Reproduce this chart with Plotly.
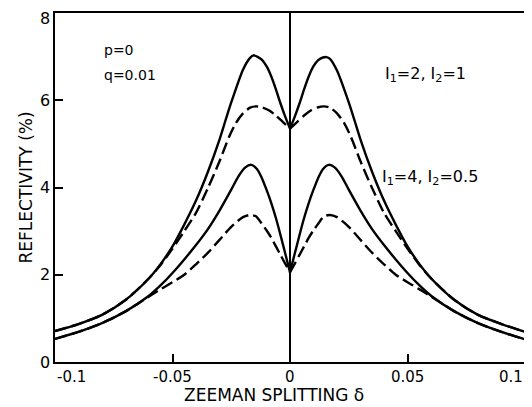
import plotly.graph_objects as go

# ---- data ----
# upper pair (I1=2, I2=1)
xa = [-0.1, -0.09, -0.08, -0.07, -0.06, -0.055, -0.05, -0.045, -0.04, -0.035, -0.03, -0.0275, -0.025, -0.02, -0.017, -0.0155, -0.014, -0.012, -0.01, -0.008, -0.006, -0.004, -0.002, 0.0,
      0.002, 0.004, 0.006, 0.008, 0.01, 0.012, 0.014, 0.0155, 0.017, 0.02, 0.025, 0.0275, 0.03, 0.035, 0.04, 0.045, 0.05, 0.055, 0.06, 0.07, 0.08, 0.09, 0.1]
ya = [0.71, 0.87, 1.08, 1.42, 1.92, 2.25, 2.65, 3.15, 3.7, 4.35, 5.1, 5.53, 5.95, 6.7, 6.97, 7.03, 7.0, 6.93, 6.78, 6.55, 6.25, 5.92, 5.62, 5.35,
      5.62, 5.92, 6.25, 6.55, 6.78, 6.92, 6.98, 6.99, 6.95, 6.68, 5.95, 5.53, 5.1, 4.35, 3.7, 3.15, 2.65, 2.25, 1.92, 1.42, 1.08, 0.87, 0.69]

xb = [-0.1, -0.09, -0.08, -0.07, -0.06, -0.055, -0.05, -0.045, -0.04, -0.035, -0.03, -0.026, -0.023, -0.02, -0.017, -0.0145, -0.012, -0.009, -0.006, -0.003, 0.0,
      0.003, 0.006, 0.009, 0.012, 0.0145, 0.017, 0.02, 0.023, 0.026, 0.03, 0.035, 0.04, 0.045, 0.05, 0.055, 0.06, 0.07, 0.08, 0.09, 0.1]
yb = [0.71, 0.87, 1.08, 1.42, 1.92, 2.23, 2.6, 3.0, 3.42, 3.98, 4.6, 5.15, 5.48, 5.7, 5.83, 5.86, 5.84, 5.77, 5.65, 5.5, 5.35,
      5.5, 5.65, 5.77, 5.84, 5.86, 5.83, 5.7, 5.48, 5.15, 4.6, 3.98, 3.42, 3.0, 2.6, 2.23, 1.92, 1.42, 1.08, 0.87, 0.69]

# lower pair (I1=4, I2=0.5)
xc = [-0.1, -0.09, -0.08, -0.07, -0.06, -0.055, -0.05, -0.045, -0.04, -0.035, -0.03, -0.025, -0.022, -0.019, -0.0165, -0.014, -0.012, -0.01, -0.008, -0.006, -0.004, -0.002, 0.0,
      0.002, 0.004, 0.006, 0.008, 0.01, 0.012, 0.014, 0.0165, 0.019, 0.022, 0.025, 0.03, 0.035, 0.04, 0.045, 0.05, 0.055, 0.06, 0.07, 0.08, 0.09, 0.1]
yc = [0.53, 0.69, 0.89, 1.16, 1.52, 1.76, 2.04, 2.35, 2.68, 3.04, 3.47, 3.95, 4.25, 4.46, 4.52, 4.42, 4.22, 3.95, 3.65, 3.3, 2.9, 2.48, 2.06,
      2.48, 2.9, 3.3, 3.65, 3.95, 4.22, 4.42, 4.52, 4.46, 4.25, 3.95, 3.47, 3.04, 2.68, 2.35, 2.04, 1.76, 1.52, 1.16, 0.89, 0.69, 0.52]

xd = [-0.1, -0.09, -0.08, -0.07, -0.065, -0.06, -0.055, -0.05, -0.045, -0.04, -0.035, -0.03, -0.025, -0.02, -0.017, -0.0145, -0.012, -0.01, -0.008, -0.006, -0.004, -0.002, 0.0,
      0.002, 0.004, 0.006, 0.008, 0.01, 0.012, 0.0145, 0.017, 0.02, 0.025, 0.03, 0.035, 0.04, 0.045, 0.05, 0.055, 0.06, 0.065, 0.07, 0.08, 0.09, 0.1]
yd = [0.53, 0.69, 0.89, 1.16, 1.33, 1.5, 1.67, 1.83, 2.0, 2.24, 2.5, 2.8, 3.1, 3.32, 3.37, 3.34, 3.17, 3.02, 2.85, 2.65, 2.45, 2.25, 2.06,
      2.25, 2.45, 2.65, 2.85, 3.02, 3.17, 3.34, 3.37, 3.32, 3.1, 2.8, 2.5, 2.24, 2.0, 1.83, 1.67, 1.5, 1.33, 1.16, 0.89, 0.69, 0.52]

y_ticks = [0, 2, 4, 6, 8]
y_labels = ["0", "2", "4", "6", "8"]
x_tick_marks = [-0.05, 0.05]
x_labels = [(-0.1, "-0.1", "left"), (-0.05, "-0.05", "center"), (0.0, "0", "center"),
            (0.05, "0.05", "center"), (0.1, "0.1", "right")]

FONT = "DejaVu Sans"
fig = go.Figure()


def add_curve(xs, ys, dash):
    left_x = [x for x in xs if x <= 0]
    left_y = [y for x, y in zip(xs, ys) if x <= 0]
    right_x = [x for x in xs if x >= 0]
    right_y = [y for x, y in zip(xs, ys) if x >= 0]
    for px, py in ((left_x, left_y), (right_x, right_y)):
        fig.add_trace(go.Scatter(
            x=px, y=py, mode="lines",
            line=dict(color="black", width=2.4, dash=dash, shape="spline", smoothing=0.7),
            showlegend=False, hoverinfo="skip"))


add_curve(xa, ya, "solid")
add_curve(xb, yb, "12px,5px")
add_curve(xc, yc, "solid")
add_curve(xd, yd, "12px,5px")

# the page body adds an 8px offset, so the figure is sized to fit the window
fig.update_layout(
    width=524, height=399,
    margin=dict(l=47, r=7, t=5, b=45, autoexpand=False),
    plot_bgcolor="white", paper_bgcolor="white",
    font=dict(family=FONT, size=15, color="black"),
    xaxis=dict(range=[-0.1, 0.1], showgrid=False, zeroline=True, zerolinecolor="black",
               zerolinewidth=1.5, showline=True, linecolor="black", linewidth=2, mirror=True,
               ticks="inside", tickvals=x_tick_marks, ticklen=8, tickwidth=1.5,
               tickcolor="black", showticklabels=False, automargin=False),
    yaxis=dict(range=[0, 8], showgrid=False, zeroline=False, showline=True,
               linecolor="black", linewidth=2, mirror=True,
               ticks="inside", tickvals=y_ticks, ticklen=8, tickwidth=1.5,
               tickcolor="black", showticklabels=False, automargin=False),
)

for yv, txt in zip(y_ticks, y_labels):
    fig.add_annotation(x=0, y=yv, xref="paper", yref="y", text=txt, showarrow=False,
                       xanchor="right", yanchor=("top" if yv == 8 else "middle"), xshift=-4,
                       yshift=(5 if yv == 8 else 0), borderpad=0, font=dict(size=16))

for xv, txt, anc in x_labels:
    fig.add_annotation(x=xv, y=0, xref="x", yref="paper", text=txt, showarrow=False,
                       xanchor=anc, yanchor="middle", yshift=-15, font=dict(size=15))

fig.add_annotation(x=-0.007, y=0, xref="x", yref="paper", text="ZEEMAN SPLITTING δ",
                   showarrow=False, xanchor="center", yanchor="middle", yshift=-33,
                   font=dict(size=17))

fig.add_annotation(x=0, y=0.5, xref="paper", yref="paper", text="REFLECTIVITY (%)",
                   showarrow=False, textangle=-90, xanchor="center", yanchor="middle",
                   xshift=-30, font=dict(size=17))

fig.add_annotation(x=-0.080, y=7.15, xref="x", yref="y", text="p=0", showarrow=False,
                   xanchor="left", yanchor="middle", font=dict(size=14))
fig.add_annotation(x=-0.080, y=6.58, xref="x", yref="y", text="q=0.01", showarrow=False,
                   xanchor="left", yanchor="middle", font=dict(size=14))
fig.add_annotation(x=0.0575, y=6.58, xref="x", yref="y", text="I<sub>1</sub>=2, I<sub>2</sub>=1",
                   showarrow=False, xanchor="center", yanchor="middle", font=dict(size=16))
fig.add_annotation(x=0.0597, y=4.22, xref="x", yref="y", text="I<sub>1</sub>=4, I<sub>2</sub>=0.5",
                   showarrow=False, xanchor="center", yanchor="middle", font=dict(size=16))

fig.write_html("out.html")
